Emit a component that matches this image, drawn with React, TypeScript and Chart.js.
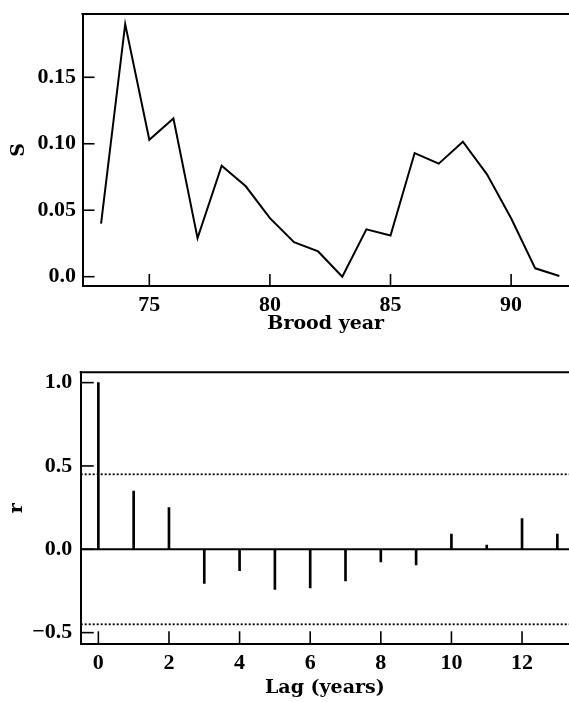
import React, { useEffect, useRef } from 'react';
import { Chart, registerables } from 'chart.js';

Chart.register(...registerables);

// ---------- data ----------
const BROOD_YEARS = [73, 74, 75, 76, 77, 78, 79, 80, 81, 82, 83, 84, 85, 86, 87, 88, 89, 90, 91, 92];
const S_VALUES = [0.040, 0.190, 0.103, 0.119, 0.029, 0.0835, 0.068, 0.044, 0.026, 0.019, 0.0, 0.0356, 0.031, 0.093, 0.085, 0.1015, 0.077, 0.044, 0.0063, 0.0005];
const YEAR_TICKS = [75, 80, 85, 90];
const S_TICKS = [0, 0.05, 0.1, 0.15];
const S_TICK_LABELS = ['0.0', '0.05', '0.10', '0.15'];

const LAGS = [0, 1, 2, 3, 4, 5, 6, 7, 8, 9, 10, 11, 12, 13];
const R_VALUES = [1.0, 0.35, 0.25, -0.204, -0.128, -0.24, -0.232, -0.19, -0.076, -0.094, 0.092, 0.026, 0.184, 0.092];
const LAG_TICKS = [0, 2, 4, 6, 8, 10, 12];
const R_TICKS = [-0.5, 0, 0.5, 1.0];
const R_TICK_LABELS = ['\u22120.5', '0.0', '0.5', '1.0'];
const CONF_LIMITS = [0.45, -0.45];

// axis ranges
const YEAR_MIN = 72.23;
const YEAR_MAX = 92.4;
const S_MIN = -0.007;
const S_MAX = 0.1976;
const LAG_MIN = -0.5;
const LAG_MAX = 13.33;
const R_MIN = -0.57;
const R_MAX = 1.062;

// ---------- styles ----------
const TICK_FONT = { family: "'Liberation Serif', 'Times New Roman', serif", weight: 'bold' as const, size: 22 };
const TITLE_FONT = { family: "'DejaVu Serif', serif", weight: 'bold' as const, size: 19 };

const frameAndTicks = {
  id: 'frameAndTicks',
  afterDatasetsDraw(chart: any, _args: any, opts: any) {
    const { ctx, chartArea } = chart;
    const xs = chart.scales.x;
    const ys = chart.scales.y;
    ctx.save();
    ctx.strokeStyle = '#000';
    ctx.lineWidth = 2;
    ctx.lineCap = 'butt';
    ctx.beginPath();
    ctx.moveTo(chartArea.left - 1, chartArea.top);
    ctx.lineTo(chartArea.right, chartArea.top);
    ctx.stroke();
    if (opts.zeroLine) {
      const y0 = ys.getPixelForValue(0);
      ctx.beginPath();
      ctx.moveTo(chartArea.left, y0);
      ctx.lineTo(chartArea.right, y0);
      ctx.stroke();
    }
    ctx.lineWidth = 1.6;
    const len = opts.len || 12;
    for (const t of xs.ticks) {
      const px = xs.getPixelForValue(t.value);
      ctx.beginPath();
      ctx.moveTo(px, chartArea.bottom);
      ctx.lineTo(px, chartArea.bottom - len);
      ctx.stroke();
    }
    for (const t of ys.ticks) {
      const py = ys.getPixelForValue(t.value);
      ctx.beginPath();
      ctx.moveTo(chartArea.left, py);
      ctx.lineTo(chartArea.left + len, py);
      ctx.stroke();
    }
    ctx.restore();
  },
};

function zeroPad(s: any) {
  s.paddingTop = 0;
  s.paddingBottom = 0;
  s.paddingLeft = 0;
  s.paddingRight = 0;
}

function axisBase() {
  return {
    grid: { display: false, drawTicks: false },
    border: { display: true, color: '#000', width: 2 },
  };
}

function TopChart() {
  const ref = useRef<HTMLCanvasElement | null>(null);
  useEffect(() => {
    if (!ref.current) return;
    const chart = new Chart(ref.current, {
      type: 'line',
      data: {
        datasets: [
          {
            data: BROOD_YEARS.map((x, i) => ({ x, y: S_VALUES[i] })),
            borderColor: '#000',
            borderWidth: 2,
            pointRadius: 0,
            tension: 0,
            fill: false,
          },
        ],
      },
      options: {
        responsive: false,
        animation: false,
        devicePixelRatio: 1,
        layout: { padding: { top: 14, left: 0, right: 0, bottom: 0 } },
        plugins: {
          legend: { display: false },
          tooltip: { enabled: false },
          frameAndTicks: { len: 12 },
        } as any,
        scales: {
          x: {
            type: 'linear',
            min: YEAR_MIN,
            max: YEAR_MAX,
            ...axisBase(),
            afterBuildTicks: (s: any) => {
              s.ticks = YEAR_TICKS.map((v) => ({ value: v }));
            },
            afterFit: (s: any) => {
              s.height = 59;
              zeroPad(s);
            },
            ticks: {
              color: '#000',
              font: TICK_FONT,
              padding: 6,
              maxRotation: 0,
              autoSkip: false,
              callback: (v: any) => String(v),
            },
            title: {
              display: true,
              text: 'Brood year',
              color: '#000',
              font: TITLE_FONT,
              padding: { top: 0, bottom: 9.6 },
            },
          },
          y: {
            type: 'linear',
            min: S_MIN,
            max: S_MAX,
            ...axisBase(),
            afterBuildTicks: (s: any) => {
              s.ticks = S_TICKS.map((v) => ({ value: v }));
            },
            afterFit: (s: any) => {
              s.width = 82.5;
              zeroPad(s);
            },
            ticks: {
              color: '#000',
              font: TICK_FONT,
              padding: 6.5,
              autoSkip: false,
              callback: (v: any) => S_TICK_LABELS[S_TICKS.indexOf(v)] ?? String(v),
            },
            title: {
              display: true,
              text: 'S',
              color: '#000',
              font: TITLE_FONT,
              padding: { top: 7.6, bottom: 0 },
            },
          },
        },
      } as any,
      plugins: [frameAndTicks],
    });
    return () => chart.destroy();
  }, []);
  return <canvas ref={ref} width={569} height={345} style={{ display: 'block', width: 569, height: 345 }} />;
}

function BottomChart() {
  const ref = useRef<HTMLCanvasElement | null>(null);
  useEffect(() => {
    if (!ref.current) return;
    const chart = new Chart(ref.current, {
      type: 'bar',
      data: {
        datasets: [
          {
            type: 'bar',
            data: LAGS.map((x, i) => ({ x, y: R_VALUES[i] })),
            backgroundColor: '#000',
            borderWidth: 0,
            barThickness: 2,
          } as any,
          ...CONF_LIMITS.map((c) => ({
            type: 'line',
            data: [
              { x: LAG_MIN, y: c },
              { x: LAG_MAX, y: c },
            ],
            borderColor: '#000',
            borderWidth: 1.8,
            borderDash: [2, 2],
            pointRadius: 0,
            fill: false,
          })),
        ],
      },
      options: {
        responsive: false,
        animation: false,
        devicePixelRatio: 1,
        layout: { padding: { top: 27.3, left: 0, right: 0, bottom: 0 } },
        plugins: {
          legend: { display: false },
          tooltip: { enabled: false },
          frameAndTicks: { len: 13, zeroLine: true },
        } as any,
        scales: {
          x: {
            type: 'linear',
            min: LAG_MIN,
            max: LAG_MAX,
            offset: false,
            ...axisBase(),
            afterBuildTicks: (s: any) => {
              s.ticks = LAG_TICKS.map((v) => ({ value: v }));
            },
            afterFit: (s: any) => {
              s.height = 57.7;
              zeroPad(s);
            },
            ticks: {
              color: '#000',
              font: TICK_FONT,
              padding: 5.5,
              maxRotation: 0,
              autoSkip: false,
              callback: (v: any) => String(v),
            },
            title: {
              display: true,
              text: 'Lag (years)',
              color: '#000',
              font: TITLE_FONT,
              padding: { top: 0, bottom: 2.6 },
            },
          },
          y: {
            type: 'linear',
            min: R_MIN,
            max: R_MAX,
            ...axisBase(),
            afterBuildTicks: (s: any) => {
              s.ticks = R_TICKS.map((v) => ({ value: v }));
            },
            afterFit: (s: any) => {
              s.width = 80.7;
              zeroPad(s);
            },
            ticks: {
              color: '#000',
              font: TICK_FONT,
              padding: 8.5,
              autoSkip: false,
              callback: (v: any) => R_TICK_LABELS[R_TICKS.indexOf(v)] ?? String(v),
            },
            title: {
              display: true,
              text: 'r',
              color: '#000',
              font: TITLE_FONT,
              padding: { top: 6.1, bottom: 0 },
            },
          },
        },
      } as any,
      plugins: [frameAndTicks],
    });
    return () => chart.destroy();
  }, []);
  return <canvas ref={ref} width={569} height={357} style={{ display: 'block', width: 569, height: 357 }} />;
}

export default function App() {
  return (
    <div style={{ position: 'absolute', left: 0, top: 0, width: 569, height: 702, background: '#fff', overflow: 'hidden' }}>
      <TopChart />
      <BottomChart />
    </div>
  );
}
